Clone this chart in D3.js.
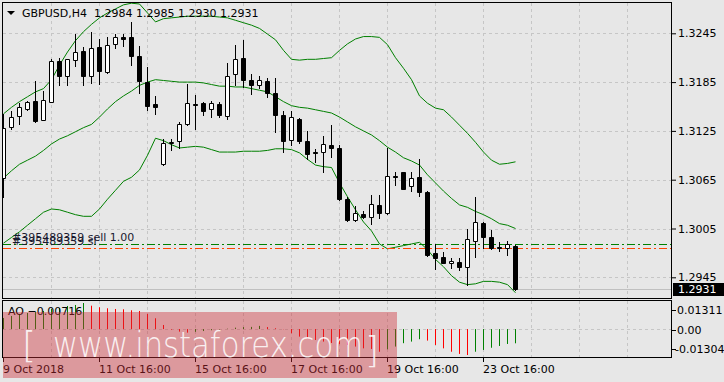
<!DOCTYPE html>
<html>
<head>
<meta charset="utf-8">
<script src="https://cdn.jsdelivr.net/npm/d3@7"></script>
<style>
html, body { margin: 0; padding: 0; background: #e7e7e7; }
svg { display: block; }
</style>
</head>
<body>
<svg id="chart" width="724" height="382"></svg>
<script>
// GBPUSD H4 bars, 9 Oct 16:00 .. 24 Oct 08:00
var opens = [1.3067,1.3130,1.3143,1.3152,1.3162,1.3139,1.3161,1.3211,1.3193,1.3212,
    1.3223,1.3192,1.3228,1.3198,1.3232,1.3240,1.3240,1.3217,1.3185,1.3158,
    1.3084,1.3110,1.3112,1.3133,1.3158,1.3159,1.3152,1.3158,1.3143,1.3195,
    1.3215,1.3188,1.3182,1.3186,1.3172,1.3145,1.3114,1.3140,1.3113,1.3099,
    1.3099,1.3108,1.3104,1.3041,1.3016,1.3023,1.3019,1.3034,1.3024,1.3069,
    1.3074,1.3057,1.3068,1.3050,1.2975,1.2970,1.2962,1.2964,1.2958,1.2990,
    1.3012,1.2995,1.2982,1.2981,1.2984];
var highs = [1.3146,1.3150,1.3159,1.3162,1.3186,1.3174,1.3213,1.3215,1.3214,1.3244,
    1.3228,1.3247,1.3238,1.3240,1.3244,1.3244,1.3259,1.3229,1.3203,1.3168,
    1.3115,1.3115,1.3136,1.3183,1.3169,1.3161,1.3162,1.3160,1.3209,1.3231,
    1.3237,1.3195,1.3192,1.3190,1.3190,1.3150,1.3149,1.3141,1.3125,1.3103,
    1.3119,1.3132,1.3108,1.3044,1.3033,1.3026,1.3046,1.3046,1.3104,1.3075,
    1.3075,1.3075,1.3090,1.3051,1.2986,1.2976,1.2969,1.2969,1.3004,1.3044,
    1.3013,1.3003,1.2988,1.2990,1.2985];
var lows = [1.3044,1.3127,1.3134,1.3151,1.3136,1.3138,1.3160,1.3181,1.3182,1.3205,
    1.3182,1.3184,1.3183,1.3196,1.3227,1.3230,1.3206,1.3172,1.3151,1.3146,
    1.3083,1.3101,1.3104,1.3132,1.3127,1.3145,1.3142,1.3142,1.3140,1.3182,
    1.3179,1.3170,1.3178,1.3167,1.3124,1.3099,1.3108,1.3110,1.3091,1.3087,
    1.3075,1.3093,1.3040,1.3014,1.3014,1.3018,1.3011,1.3018,1.3023,1.3059,
    1.3053,1.3051,1.3045,1.2971,1.2955,1.2962,1.2957,1.2954,1.2936,1.2970,
    1.2981,1.2980,1.2977,1.2973,1.2930];
var closes = [1.3129,1.3142,1.3154,1.3160,1.3137,1.3163,1.3211,1.3192,1.3213,1.3222,
    1.3192,1.3227,1.3199,1.3231,1.3241,1.3238,1.3217,1.3186,1.3156,1.3154,
    1.3110,1.3111,1.3134,1.3159,1.3157,1.3150,1.3159,1.3144,1.3193,1.3214,
    1.3187,1.3181,1.3187,1.3171,1.3144,1.3112,1.3142,1.3113,1.3097,1.3098,
    1.3109,1.3104,1.3041,1.3015,1.3024,1.3019,1.3035,1.3024,1.3069,1.3068,
    1.3054,1.3067,1.3050,1.2972,1.2969,1.2963,1.2965,1.2958,1.2992,1.3013,
    1.2995,1.2981,1.2981,1.2986,1.2931];

// Bollinger bands
var bandUpper = [1.3146,1.3154,1.3161,1.3167,1.3173,1.3177,1.3188,1.3206,1.3222,1.3236,
    1.3247,1.3256,1.3264,1.3270,1.3275,1.3280,1.3282,1.3281,1.3270,1.3259,
    1.3263,1.3264,1.3265,1.3266,1.3266,1.3266,1.3266,1.3265,1.3264,1.3261,
    1.3258,1.3255,1.3251,1.3244,1.3237,1.3224,1.3213,1.3212,1.3213,1.3213,
    1.3214,1.3215,1.3224,1.3232,1.3238,1.3241,1.3241,1.3240,1.3231,1.3215,
    1.3202,1.3188,1.3168,1.3159,1.3153,1.3151,1.3142,1.3132,1.3122,1.3111,
    1.3099,1.3089,1.3084,1.3085,1.3087];
var bandMiddle = [1.3067,1.3076,1.3084,1.3089,1.3094,1.3101,1.3109,1.3115,1.3119,1.3124,
    1.3129,1.3133,1.3142,1.3152,1.3161,1.3168,1.3174,1.3181,1.3185,1.3188,
    1.3187,1.3186,1.3185,1.3185,1.3185,1.3184,1.3182,1.3180,1.3180,1.3179,
    1.3179,1.3177,1.3175,1.3173,1.3167,1.3161,1.3156,1.3154,1.3153,1.3151,
    1.3149,1.3147,1.3142,1.3136,1.3130,1.3125,1.3120,1.3113,1.3105,1.3099,
    1.3092,1.3088,1.3083,1.3071,1.3061,1.3051,1.3042,1.3034,1.3031,1.3026,
    1.3022,1.3017,1.3011,1.3009,1.3005];
var bandLower = [1.2987,1.2994,1.3001,1.3009,1.3017,1.3025,1.3029,1.3028,1.3025,1.3022,
    1.3020,1.3020,1.3029,1.3041,1.3052,1.3063,1.3068,1.3077,1.3095,1.3116,
    1.3113,1.3108,1.3104,1.3105,1.3106,1.3105,1.3102,1.3099,1.3099,1.3099,
    1.3100,1.3100,1.3100,1.3101,1.3103,1.3103,1.3102,1.3098,1.3090,1.3083,
    1.3081,1.3080,1.3061,1.3044,1.3028,1.3013,1.3002,1.2986,1.2980,1.2982,
    1.2984,1.2986,1.2988,1.2979,1.2967,1.2958,1.2947,1.2939,1.2936,1.2937,
    1.2940,1.2940,1.2939,1.2936,1.2926];

// Awesome oscillator
var aoValues = [0.00558,0.00659,0.00759,0.00809,0.0086,0.0091,0.0101,0.0106,0.01161,0.01212,
    0.01311,0.01176,0.01096,0.01046,0.0101,0.00995,0.00945,0.0091,0.00759,0.00543,
    0.00206,-0.0003,-0.0013,-0.0018,-0.0014,-0.0010,-0.0006,-0.0002,0.0002,0.0007,
    0.0010,0.0011,0.0016,0.0010,0.0004,-0.0001,-0.0021,-0.0038,-0.0046,-0.0055,
    -0.0063,-0.0070,-0.0076,-0.0080,-0.0088,-0.0097,-0.0100,-0.0114,-0.0102,-0.0088,
    -0.0071,-0.0063,-0.0051,-0.0058,-0.0080,-0.0097,-0.0114,-0.0125,-0.01304,-0.0114,
    -0.0105,-0.0094,-0.0085,-0.0075,-0.00716];

var priceTicks = [1.3245, 1.3185, 1.3125, 1.3065, 1.3005, 1.2945];
var aoTicks = [0.01311, 0.00, -0.01304];
var aoTickLabels = ["0.01311", "0.00", "-0.01304"];
var timeTickBars = [0, 12, 24, 36, 48, 60];
var timeTickLabels = ["9 Oct 2018", "11 Oct 16:00", "15 Oct 16:00", "17 Oct 16:00", "19 Oct 16:00", "23 Oct 16:00"];

var symbolName = "GBPUSD,H4";
var orderLines = [
    {price: 1.2986, label: "#395489359 sell 1.00", color: "#008000"},
    {price: 1.2981, label: "#395489359 sl", color: "#ff4500"}
];

var font = "'DejaVu Sans', Verdana, sans-serif";
var svg, x, y, aoY, main, ao;

initChart();
drawGrid();
drawBands();
drawOrders();
drawCandles();
drawAO();
drawAxes();
drawWatermark();

function cx(i) {
    return Math.round(x(i));
}

function initChart() {
    svg = d3.select("#chart");
    x = d3.scaleLinear().domain([0, 64]).range([3, 515]);
    y = d3.scaleLinear().domain([1.2945, 1.3245]).range([277.3, 33.3]);
    aoY = d3.scaleLinear().domain([-0.01304, 0.01311]).range([355, 303]);

    var defs = svg.append("defs");
    defs.append("clipPath").attr("id", "clipMain")
            .append("rect").attr("x", 3).attr("y", 3).attr("width", 668).attr("height", 295);
    defs.append("clipPath").attr("id", "clipAO")
            .append("rect").attr("x", 3).attr("y", 301).attr("width", 668).attr("height", 56);

    main = svg.append("g").attr("clip-path", "url(#clipMain)");
    ao = svg.append("g").attr("clip-path", "url(#clipAO)");
}

function drawGrid() {
    var gridBars = d3.range(6, 80, 6);
    [main, ao].forEach(function (g, k) {
        g.append("g").selectAll("line")
                .data(gridBars)
                .enter().append("line")
                .attr("x1", function (d) { return cx(d) + 0.5; })
                .attr("x2", function (d) { return cx(d) + 0.5; })
                .attr("y1", k == 0 ? 3 : 301)
                .attr("y2", k == 0 ? 298 : 357)
                .attr("stroke", "#c6c6c6")
                .attr("stroke-dasharray", "3,3");
    });
    main.append("g").selectAll("line")
            .data(priceTicks)
            .enter().append("line")
            .attr("x1", 3).attr("x2", 671)
            .attr("y1", function (d) { return Math.round(y(d)) + 0.5; })
            .attr("y2", function (d) { return Math.round(y(d)) + 0.5; })
            .attr("stroke", "#c6c6c6")
            .attr("stroke-dasharray", "3,3");
    ao.append("line")
            .attr("x1", 3).attr("x2", 671)
            .attr("y1", Math.round(aoY(0)) + 0.5).attr("y2", Math.round(aoY(0)) + 0.5)
            .attr("stroke", "#c6c6c6")
            .attr("stroke-dasharray", "3,3");
    // bid line
    main.append("line")
            .attr("x1", 3).attr("x2", 671)
            .attr("y1", Math.round(y(closes[64])) + 0.5).attr("y2", Math.round(y(closes[64])) + 0.5)
            .attr("stroke", "#c0c0c0");
}

function drawBands() {
    var line = d3.line()
            .x(function (d, i) { return cx(i) + 0.5; })
            .y(function (d) { return y(d); });
    [bandUpper, bandMiddle, bandLower].forEach(function (band) {
        main.append("path")
                .attr("d", line(band))
                .attr("fill", "none")
                .attr("stroke", "#008000")
                .attr("stroke-width", 1);
    });
}

function drawOrders() {
    orderLines.forEach(function (o) {
        var py = Math.round(y(o.price)) + 0.5;
        main.append("line")
                .attr("x1", 3).attr("x2", 671)
                .attr("y1", py).attr("y2", py)
                .attr("stroke", o.color)
                .attr("stroke-dasharray", "8,3,2,3");
    });
    orderLines.forEach(function (o) {
        main.append("text")
                .attr("x", 12)
                .attr("y", y(o.price) - 3)
                .attr("font-family", font)
                .attr("font-size", 11)
                .attr("fill", "#1a1a30")
                .text(o.label);
    });
}

function drawCandles() {
    var bars = d3.range(opens.length).map(function (i) {
        return {i: i, open: opens[i], high: highs[i], low: lows[i], close: closes[i]};
    });
    var g = main.append("g");
    g.selectAll(".wick")
            .data(bars)
            .enter().append("line")
            .attr("class", "wick")
            .attr("x1", function (d) { return cx(d.i) + 0.5; })
            .attr("x2", function (d) { return cx(d.i) + 0.5; })
            .attr("y1", function (d) { return Math.round(y(d.high)); })
            .attr("y2", function (d) { return Math.round(y(d.low)) + 1; })
            .attr("stroke", "#000");
    g.selectAll(".body")
            .data(bars)
            .enter().append("path")
            .attr("class", "body")
            .attr("d", function (d) {
                var top = Math.round(y(Math.max(d.open, d.close)));
                var bottom = Math.round(y(Math.min(d.open, d.close)));
                return "M" + (cx(d.i) - 1.5) + "," + (top + 0.5) + "h4v" + (bottom - top) + "h-4z";
            })
            .attr("fill", function (d) { return d.close >= d.open ? "#fff" : "#000"; })
            .attr("stroke", "#000");
}

function drawAO() {
    var zero = aoY(0);
    ao.append("g").selectAll("line")
            .data(aoValues)
            .enter().append("line")
            .attr("x1", function (d, i) { return cx(i) + 0.5; })
            .attr("x2", function (d, i) { return cx(i) + 0.5; })
            .attr("y1", zero)
            .attr("y2", function (d) { return aoY(d); })
            .attr("stroke", function (d, i) {
                return (i == 0 || d > aoValues[i - 1]) ? "#008000" : "#ff0000";
            });
    svg.append("text")
            .attr("x", 8).attr("y", 315)
            .attr("font-family", font).attr("font-size", 11)
            .attr("fill", "#000")
            .text("AO " + d3.format(".5f")(aoValues[aoValues.length - 1]));
}

function drawAxes() {
    // panel borders
    svg.append("rect").attr("x", 2.5).attr("y", 2.5).attr("width", 669).attr("height", 296)
            .attr("fill", "none").attr("stroke", "#000");
    svg.append("rect").attr("x", 2.5).attr("y", 300.5).attr("width", 669).attr("height", 57)
            .attr("fill", "none").attr("stroke", "#000");

    // price axis
    var priceAxis = svg.append("g")
            .attr("transform", "translate(672,0)")
            .call(d3.axisRight(y).tickValues(priceTicks).tickSize(4).tickPadding(2)
                    .tickFormat(d3.format(".4f")));
    priceAxis.select(".domain").remove();
    priceAxis.selectAll("text").attr("font-family", font).attr("font-size", 11).attr("fill", "#000");
    priceAxis.selectAll("line").attr("stroke", "#000");

    // current price box
    var last = closes[closes.length - 1];
    var ly = Math.round(y(last));
    svg.append("rect").attr("x", 673).attr("y", ly - 6).attr("width", 51).attr("height", 13).attr("fill", "#000");
    svg.append("text").attr("x", 678).attr("y", ly).attr("dy", "0.35em")
            .attr("font-family", font).attr("font-size", 11).attr("fill", "#fff")
            .text(d3.format(".4f")(last));

    // AO axis, labels kept inside the window
    var shift = [7, 1, -6];
    var aoAxis = svg.append("g").selectAll("g")
            .data(aoTicks)
            .enter().append("g")
            .attr("transform", function (d, i) { return "translate(672," + (Math.round(aoY(d)) + shift[i] + 0.5) + ")"; });
    aoAxis.append("line").attr("x1", 0).attr("x2", 4).attr("stroke", "#000");
    aoAxis.append("text")
            .attr("x", function (d, i) { return aoTickLabels[i].charAt(0) == "-" ? 3 : 5; })
            .attr("dy", "0.35em")
            .attr("font-family", font).attr("font-size", 11).attr("fill", "#000")
            .text(function (d, i) { return aoTickLabels[i]; });

    // time axis
    var timeAxis = svg.append("g").selectAll("g")
            .data(timeTickBars)
            .enter().append("g")
            .attr("transform", function (d) { return "translate(" + (cx(d) + 0.5) + ",0)"; });
    timeAxis.append("line").attr("y1", 358).attr("y2", 362).attr("stroke", "#000");
    timeAxis.append("text")
            .attr("x", -0.5).attr("y", 373)
            .attr("font-family", font).attr("font-size", 11).attr("fill", "#000")
            .text(function (d, i) { return timeTickLabels[i]; });

    // header
    svg.append("path").attr("d", "M7,11L15,11L11,15Z").attr("fill", "#000");
    svg.append("text").attr("x", 22).attr("y", 17)
            .attr("font-family", font).attr("font-size", 11).attr("fill", "#000")
            .text(symbolName);
    var n = closes.length - 1;
    svg.append("text").attr("x", 94).attr("y", 17)
            .attr("font-family", font).attr("font-size", 11).attr("fill", "#000")
            .text([opens[n], highs[n], lows[n], closes[n]].map(d3.format(".4f")).join(" "));
}

function drawWatermark() {
    var wm = svg.append("g");
    wm.append("rect").attr("x", 3).attr("y", 312).attr("width", 394).attr("height", 66)
            .attr("fill", "rgb(205,45,55)").attr("opacity", 0.42);
    var t = wm.append("g").attr("fill", "#fff").attr("opacity", 0.85)
            .attr("font-family", "'DejaVu Sans', sans-serif").attr("font-weight", 200).attr("font-size", 36);
    t.append("text").attr("x", 22).attr("y", 357).text("[");
    t.append("text").attr("x", 53).attr("y", 357)
            .attr("textLength", 310).attr("lengthAdjust", "spacingAndGlyphs")
            .text("www.instaforex.com");
    t.append("text").attr("x", 365).attr("y", 362).text("]");
}
</script>
</body>
</html>
